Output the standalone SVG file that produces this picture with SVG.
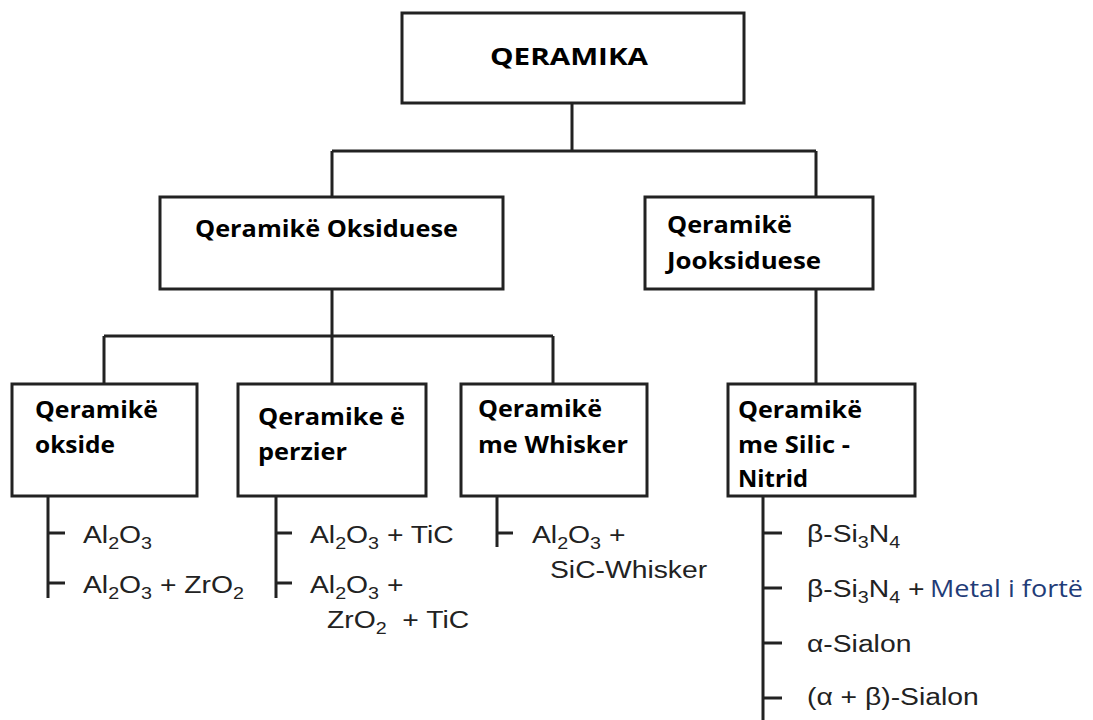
<svg xmlns="http://www.w3.org/2000/svg" width="1093" height="720" viewBox="0 0 1093 720">
<style>
.box{fill:#fff;stroke:#222;stroke-width:3}
.ln{fill:none;stroke:#222;stroke-width:3}
.bt{font-family:"Open Sans","Liberation Sans",sans-serif;font-weight:bold;font-size:23px;fill:#000}
.ct{font-family:"Liberation Sans",Arial,sans-serif;font-size:23px;fill:#222}
.sb{font-size:16px}
.mt{font-family:"Open Sans","Liberation Sans",sans-serif;font-size:23px;fill:#1f3c78}
</style>
<rect width="1093" height="720" fill="#fff"/>
<g id="connectors">
<path class="ln" d="M572,103V151M332,151H816M332,151V197M816,151V197M332,289V336M104,336H553M104,336V384M332,336V384M553,336V384M816,289V384"/>
<path class="ln" d="M48,496V598M48,533H65M48,583H65"/>
<path class="ln" d="M276,496V598M276,533H292M276,583H292"/>
<path class="ln" d="M497,496V547M497,533H513"/>
<path class="ln" d="M763,496V720M763,533H782M763,588H782M763,643H782M763,698H782"/>
</g>
<g id="n-qeramika">
<rect class="box" x="402" y="13" width="342" height="90"/>
<text class="bt" x="490" y="65" font-size="27" textLength="158" lengthAdjust="spacingAndGlyphs">QERAMIKA</text>
</g>
<g id="n-oksiduese">
<rect class="box" x="160" y="197" width="343" height="92"/>
<text class="bt" x="195" y="237" textLength="263" lengthAdjust="spacingAndGlyphs">Qeramikë Oksiduese</text>
</g>
<g id="n-jooksiduese">
<rect class="box" x="645" y="197" width="228" height="92"/>
<text class="bt" x="667" y="233" textLength="125" lengthAdjust="spacingAndGlyphs">Qeramikë</text>
<text class="bt" x="667" y="269" textLength="154" lengthAdjust="spacingAndGlyphs">Jooksiduese</text>
</g>
<g id="n-okside">
<rect class="box" x="12" y="384" width="185" height="112"/>
<text class="bt" x="35" y="418" textLength="123" lengthAdjust="spacingAndGlyphs">Qeramikë</text>
<text class="bt" x="35" y="453" textLength="80" lengthAdjust="spacingAndGlyphs">okside</text>
</g>
<g id="n-perzier">
<rect class="box" x="238" y="384" width="188" height="112"/>
<text class="bt" x="258" y="425" textLength="147" lengthAdjust="spacingAndGlyphs">Qeramike ë</text>
<text class="bt" x="258" y="460" textLength="89" lengthAdjust="spacingAndGlyphs">perzier</text>
</g>
<g id="n-whisker">
<rect class="box" x="461" y="384" width="186" height="112"/>
<text class="bt" x="478" y="417" textLength="124" lengthAdjust="spacingAndGlyphs">Qeramikë</text>
<text class="bt" x="478" y="453" textLength="150" lengthAdjust="spacingAndGlyphs">me Whisker</text>
</g>
<g id="n-silic">
<rect class="box" x="728" y="384" width="187" height="112"/>
<text class="bt" x="738" y="418" textLength="124" lengthAdjust="spacingAndGlyphs">Qeramikë</text>
<text class="bt" x="738" y="453" textLength="112" lengthAdjust="spacingAndGlyphs">me Silic -</text>
<text class="bt" x="738" y="487" textLength="70" lengthAdjust="spacingAndGlyphs">Nitrid</text>
</g>
<g id="leaves-okside">
<text class="ct" transform="translate(83,543) scale(1.23,1)">Al<tspan class="sb" dy="6">2</tspan><tspan dy="-6">O</tspan><tspan class="sb" dy="6">3</tspan></text>
<text class="ct" transform="translate(83,593) scale(1.23,1)">Al<tspan class="sb" dy="6">2</tspan><tspan dy="-6">O</tspan><tspan class="sb" dy="6">3</tspan><tspan dy="-6"> + ZrO</tspan><tspan class="sb" dy="6">2</tspan></text>
</g>
<g id="leaves-perzier">
<text class="ct" transform="translate(310,543) scale(1.23,1)">Al<tspan class="sb" dy="6">2</tspan><tspan dy="-6">O</tspan><tspan class="sb" dy="6">3</tspan><tspan dy="-6"> + TiC</tspan></text>
<text class="ct" transform="translate(310,593) scale(1.23,1)">Al<tspan class="sb" dy="6">2</tspan><tspan dy="-6">O</tspan><tspan class="sb" dy="6">3</tspan><tspan dy="-6"> +</tspan></text>
<text class="ct" transform="translate(327,628) scale(1.23,1)" xml:space="preserve">ZrO<tspan class="sb" dy="6">2</tspan><tspan dy="-6">  + TiC</tspan></text>
</g>
<g id="leaves-whisker">
<text class="ct" transform="translate(532,543) scale(1.23,1)">Al<tspan class="sb" dy="6">2</tspan><tspan dy="-6">O</tspan><tspan class="sb" dy="6">3</tspan><tspan dy="-6"> +</tspan></text>
<text class="ct" transform="translate(550,578) scale(1.23,1)">SiC-Whisker</text>
</g>
<g id="leaves-silic">
<text class="ct" transform="translate(807,542) scale(1.23,1)">β-Si<tspan class="sb" dy="6">3</tspan><tspan dy="-6">N</tspan><tspan class="sb" dy="6">4</tspan></text>
<text class="ct" transform="translate(807,597) scale(1.23,1)">β-Si<tspan class="sb" dy="6">3</tspan><tspan dy="-6">N</tspan><tspan class="sb" dy="6">4</tspan><tspan dy="-6"> +</tspan></text>
<text class="mt" x="930" y="597" textLength="153" lengthAdjust="spacingAndGlyphs">Metal i fortë</text>
<text class="ct" transform="translate(807,652) scale(1.23,1)">α-Sialon</text>
<text class="ct" transform="translate(807,705) scale(1.23,1)">(α + β)-Sialon</text>
</g>
</svg>
